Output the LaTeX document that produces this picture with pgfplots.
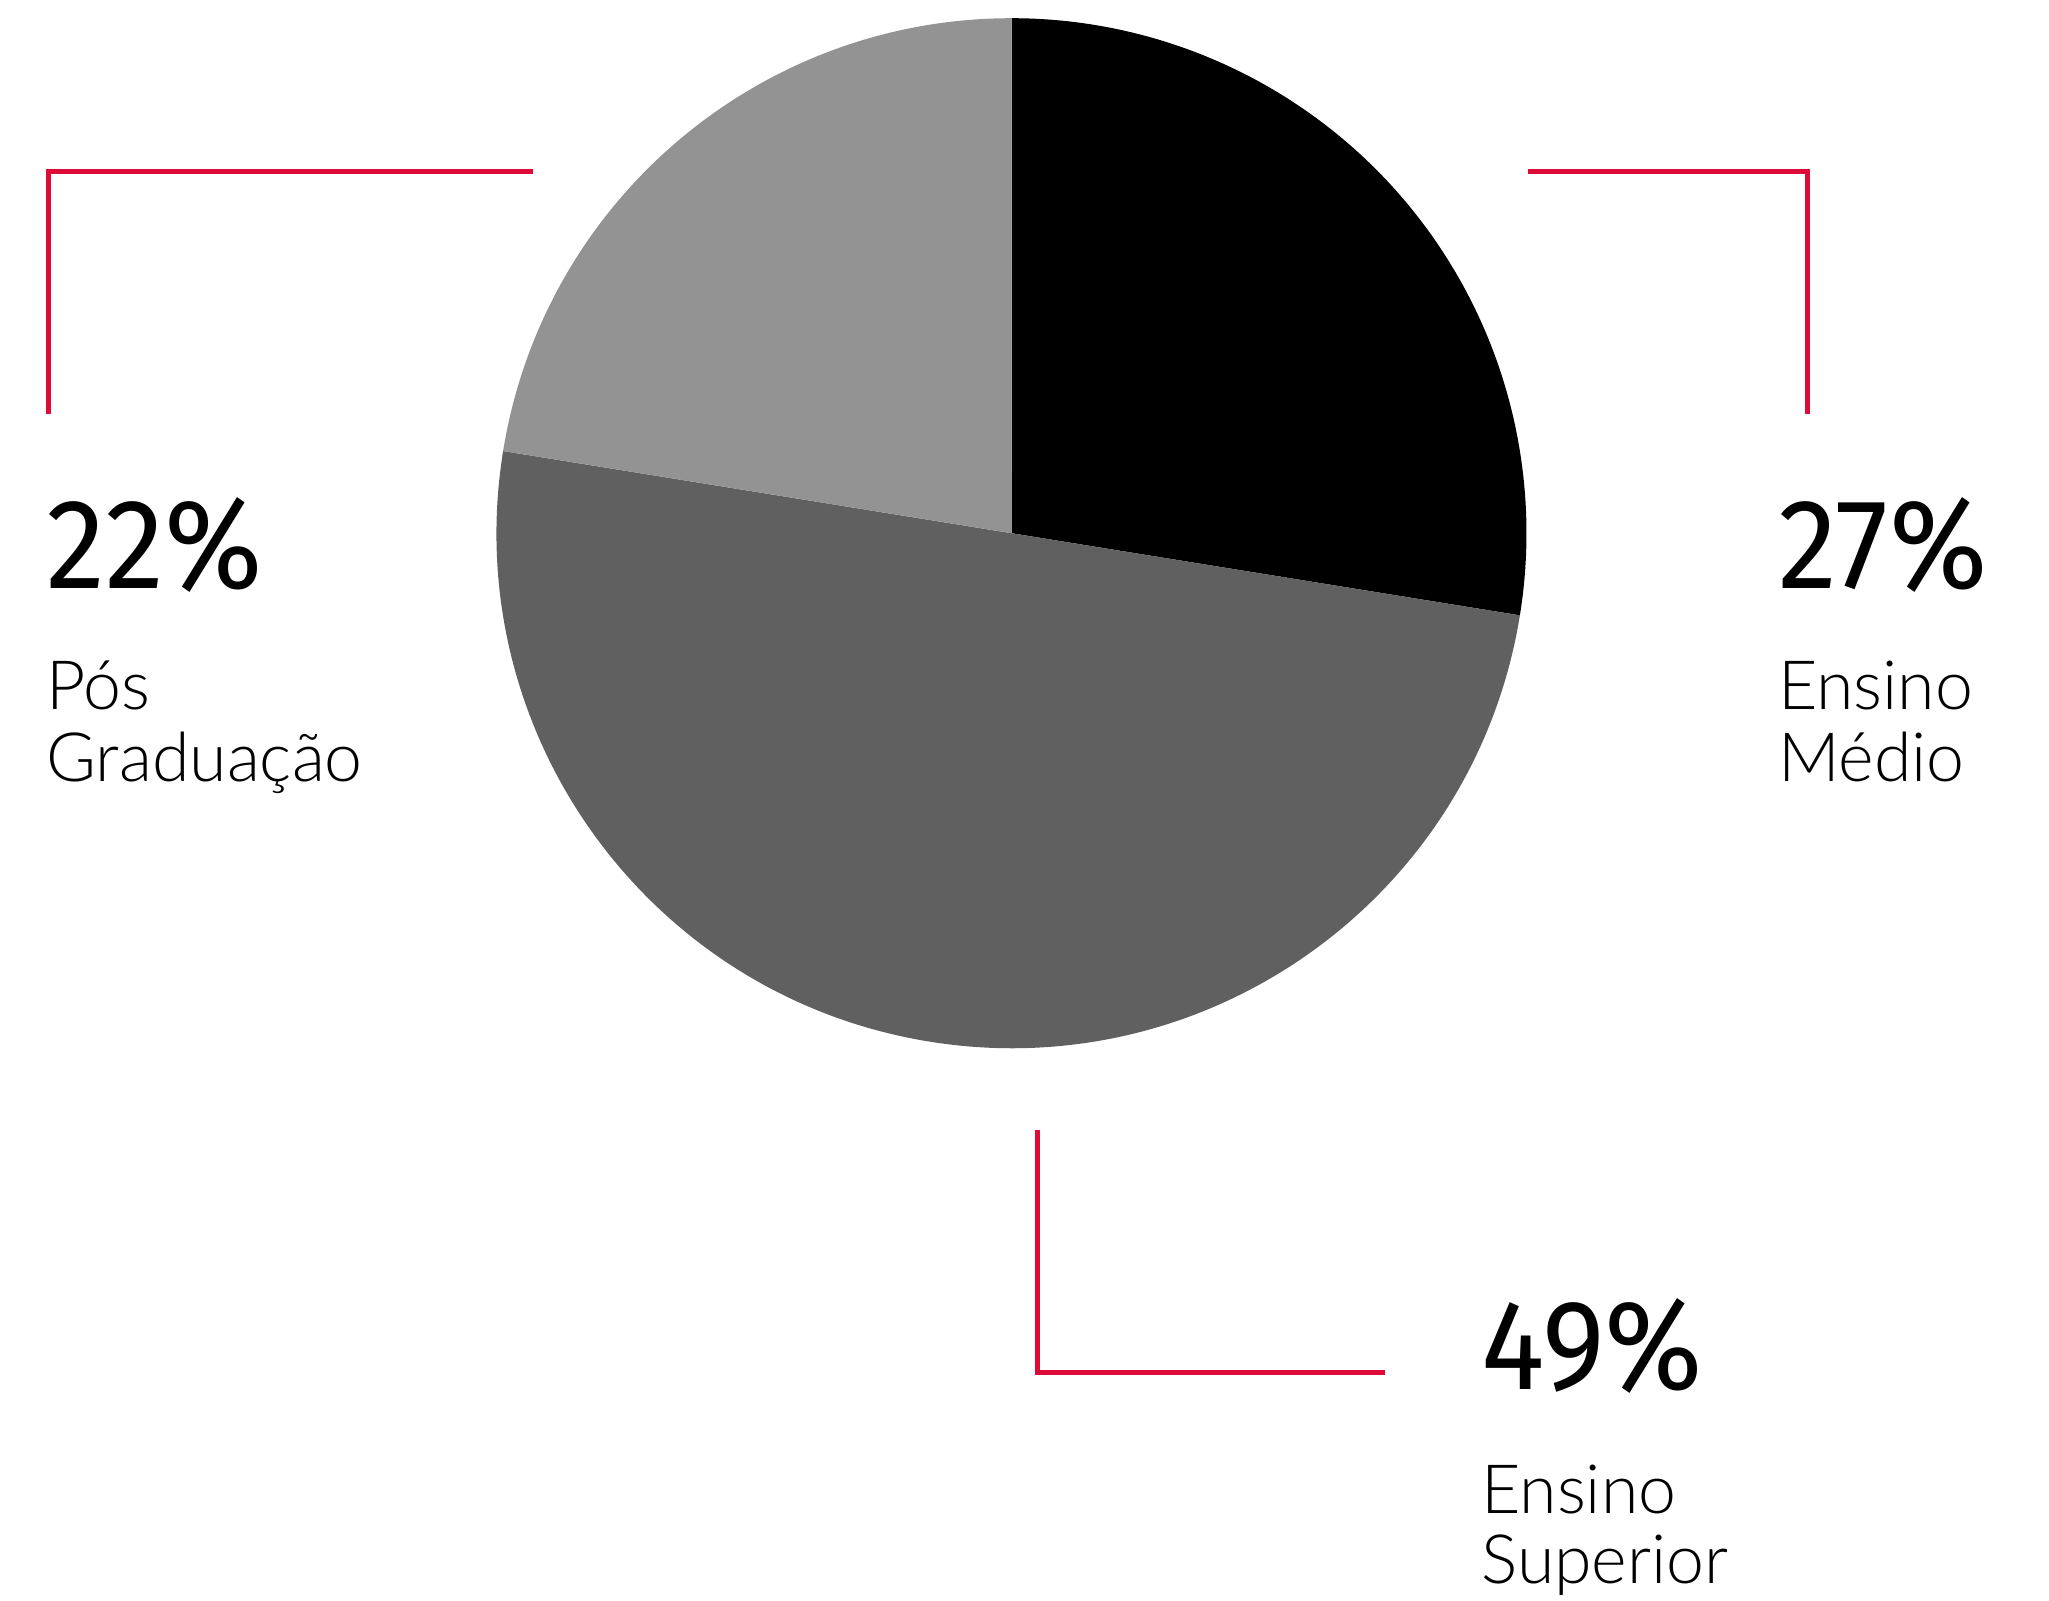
\documentclass[border=0pt]{standalone}
\usepackage{pgfplots}
\pgfplotsset{compat=1.18}
\usepackage{fontspec}
\setmainfont{Fira Sans}
\newfontfamily\lightf{Lato Light}
\definecolor{pieblack}{RGB}{0,0,0}
\definecolor{piedark}{RGB}{96,96,96}
\definecolor{pielight}{RGB}{147,147,147}
\definecolor{callred}{RGB}{222,10,56}
\newcommand\pct[1]{\scalebox{0.93}[1]{#1}}
\begin{document}
\begin{tikzpicture}
\begin{axis}[
  x=0.25pt, y=0.25pt, xmin=0, xmax=2049, ymin=0, ymax=1600,
  hide axis, clip=false, scale only axis, anchor=south west, at={(0,0)}]
\path (axis cs:0,0) rectangle (axis cs:2049,1600);
% pie slices: values (percent), drawn clockwise from 12 o'clock, normalised by their sum
\def\total{98}
\def\angA{90}
\pgfplotsforeachungrouped \v/\c in {27/pieblack,49/piedark,22/pielight}{%
  \pgfmathsetmacro\angB{\angA-\v/\total*360}%
  \edef\temp{\noexpand\fill[\c] (axis cs:1011.5,1066.8) -- ++(\angA:128.75pt) arc[start angle=\angA, end angle=\angB, radius=128.75pt] -- cycle;}%
  \temp
  \global\let\angA\angB
}
% callout lines
\draw[callred, line width=1.25pt] (axis cs:48.4,1185.7) -- (axis cs:48.4,1428.8) -- (axis cs:533.2,1428.8);
\draw[callred, line width=1.25pt] (axis cs:1527.6,1428.8) -- (axis cs:1807.3,1428.8) -- (axis cs:1807.3,1185.7);
\draw[callred, line width=1.25pt] (axis cs:1037.6,469.6) -- (axis cs:1037.6,227.9) -- (axis cs:1385.2,227.9);
% labels
\node[anchor=base west, inner sep=0, font=\fontsize{32}{40}\selectfont] at (axis cs:45.7,1012) {\pct{22\%}};
\node[anchor=base west, inner sep=0, font=\lightf\fontsize{17}{18}\selectfont] at (axis cs:45.7,890.4) {Pós};
\node[anchor=base west, inner sep=0, font=\lightf\fontsize{17}{18}\selectfont] at (axis cs:45.7,818.5) {Graduação};
\node[anchor=base west, inner sep=0, font=\fontsize{32}{40}\selectfont] at (axis cs:1777.3,1012) {\pct{27\%}};
\node[anchor=base west, inner sep=0, font=\lightf\fontsize{17}{18}\selectfont] at (axis cs:1777.3,890.4) {Ensino};
\node[anchor=base west, inner sep=0, font=\lightf\fontsize{17}{18}\selectfont] at (axis cs:1777.3,818.5) {Médio};
\node[anchor=base west, inner sep=0, font=\fontsize{32}{40}\selectfont] at (axis cs:1480.6,211) {\pct{49\%}};
\node[anchor=base west, inner sep=0, font=\lightf\fontsize{17}{18}\selectfont] at (axis cs:1480.6,86.7) {Ensino};
\node[anchor=base west, inner sep=0, font=\lightf\fontsize{17}{18}\selectfont] at (axis cs:1480.6,16.2) {Superior};
\end{axis}
\end{tikzpicture}
\end{document}
